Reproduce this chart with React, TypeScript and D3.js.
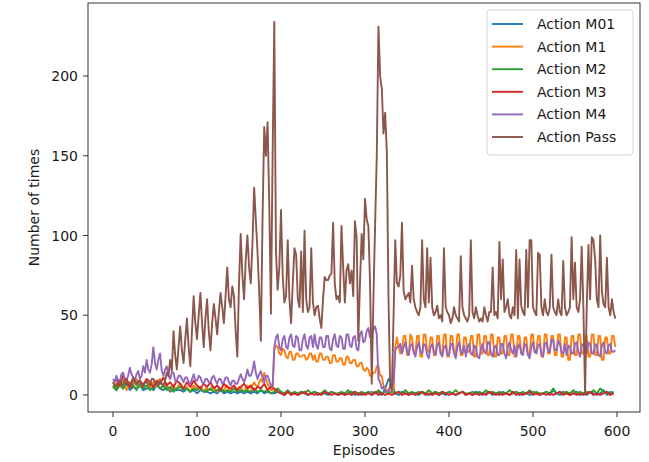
import * as d3 from 'd3';

// episode of every sample: busy series were read every 2 episodes, quiet ones every 4
const episodesFine = d3.range(0, 600, 2);
const episodesCoarse = d3.range(0, 600, 4);

const xTicks = [0, 100, 200, 300, 400, 500, 600];
const yTicks = [0, 50, 100, 150, 200];

const seriesNames = ['Action M01', 'Action M1', 'Action M2', 'Action M3', 'Action M4', 'Action Pass'];
const seriesColors = ['#1f77b4', '#ff7f0e', '#2ca02c', '#d62728', '#9467bd', '#8c564b'];

// every 4 episodes
const m01 = [
  5, 3, 6, 4, 7, 3, 5, 4, 6, 3,
  4, 5, 3, 6, 4, 3, 5, 2, 4, 3,
  3, 2, 4, 2, 3, 1, 3, 2, 2, 1,
  2, 1, 3, 1, 2, 1, 2, 1, 2, 1,
  2, 1, 2, 1, 3, 1, 2, 1, 1, 2,
  1, 0, 2, 1, 1, 0, 2, 1, 0, 1,
  2, 0, 1, 1, 0, 2, 1, 0, 1, 0,
  1, 2, 0, 1, 0, 1, 2, 0, 1, 2,
  0, 4, 10, 8, 1, 0, 2, 1, 0, 1,
  1, 0, 2, 1, 0, 1, 2, 0, 1, 0,
  2, 1, 0, 1, 2, 0, 1, 0, 2, 1,
  0, 1, 2, 0, 1, 0, 2, 1, 0, 1,
  2, 0, 1, 1, 0, 2, 1, 0, 1, 2,
  0, 3, 1, 0, 2, 1, 0, 1, 2, 0,
  1, 0, 2, 1, 0, 1, 3, 0, 1, 2,
];

// every 2 episodes
const m1 = [
  4, 6, 7, 5, 5, 8, 9, 6, 3, 5, 8, 7, 6, 9, 10, 7, 5, 6, 7, 8, 9, 6, 4, 7, 8, 5, 6, 9, 10, 7,
  5, 6, 7, 4, 3, 5, 6, 4, 4, 6, 7, 5, 3, 4, 5, 3, 2, 4, 6, 5, 4, 5, 5, 3, 2, 4, 4, 3, 3, 5,
  5, 3, 2, 4, 4, 3, 3, 5, 6, 3, 2, 4, 4, 3, 3, 5, 5, 3, 2, 4, 6, 5, 4, 6, 8, 6, 5, 8, 10, 8,
  14, 10, 7, 5, 3, 3, 28, 31, 30, 26, 25, 29, 28, 24, 23, 27, 27, 22, 22, 26, 26, 24, 24, 25, 25, 22, 23, 26, 26, 22,
  25, 21, 21, 26, 26, 22, 22, 24, 24, 20, 20, 25, 25, 21, 21, 23, 23, 19, 19, 24, 24, 20, 20, 22, 22, 18, 18, 20, 20, 16,
  15, 17, 16, 12, 12, 14, 14, 18, 18, 12, 12, 6, 4, 3, 3, 2, 2, 3, 30, 36, 30, 26, 28, 37, 37, 25, 25, 38, 36, 26,
  26, 37, 37, 24, 24, 38, 38, 27, 27, 36, 36, 25, 25, 37, 37, 26, 26, 38, 38, 24, 24, 37, 37, 26, 26, 38, 38, 25, 25, 36,
  36, 27, 27, 37, 37, 24, 24, 38, 38, 26, 26, 37, 37, 25, 25, 38, 38, 24, 24, 36, 36, 26, 26, 37, 37, 25, 25, 38, 38, 24,
  24, 37, 37, 26, 26, 36, 36, 25, 25, 38, 38, 27, 27, 37, 37, 24, 24, 38, 38, 26, 26, 37, 37, 25, 25, 38, 38, 24, 24, 36,
  36, 22, 22, 37, 37, 25, 25, 38, 38, 26, 26, 37, 37, 24, 24, 38, 38, 25, 25, 37, 37, 22, 22, 36, 36, 26, 26, 37, 37, 30,
];

// every 4 episodes
const m2 = [
  6, 3, 7, 4, 8, 5, 6, 3, 7, 4,
  6, 3, 5, 7, 4, 6, 3, 5, 2, 4,
  5, 3, 4, 2, 4, 3, 5, 2, 3, 4,
  2, 3, 4, 2, 3, 2, 4, 2, 3, 2,
  3, 2, 4, 2, 3, 2, 3, 1, 2, 4,
  2, 1, 3, 1, 2, 1, 2, 1, 3, 1,
  2, 1, 1, 3, 1, 2, 1, 1, 2, 1,
  3, 1, 2, 1, 2, 1, 1, 2, 1, 3,
  1, 2, 1, 2, 1, 2, 1, 3, 1, 2,
  1, 2, 1, 1, 3, 1, 2, 1, 2, 1,
  2, 1, 3, 1, 2, 1, 1, 2, 1, 2,
  1, 3, 1, 2, 1, 2, 1, 1, 3, 1,
  2, 1, 2, 1, 3, 1, 2, 1, 1, 2,
  1, 4, 1, 2, 1, 2, 1, 3, 1, 2,
  1, 2, 1, 3, 1, 4, 2, 1, 2, 1,
];

// every 4 episodes
const m3 = [
  7, 10, 6, 12, 8, 5, 11, 7, 9, 6,
  10, 8, 5, 9, 7, 11, 6, 8, 5, 9,
  7, 4, 8, 5, 9, 6, 4, 7, 5, 8,
  4, 6, 3, 7, 5, 4, 6, 3, 5, 7,
  4, 6, 3, 5, 4, 7, 3, 5, 4, 2,
  1, 0, 2, 0, 1, 0, 1, 2, 0, 1,
  0, 1, 0, 2, 1, 0, 1, 0, 1, 0,
  1, 0, 2, 0, 1, 0, 1, 0, 2, 0,
  1, 0, 1, 0, 1, 2, 0, 1, 0, 1,
  0, 1, 2, 0, 1, 0, 1, 0, 2, 1,
  0, 1, 0, 1, 2, 0, 1, 0, 1, 0,
  1, 0, 2, 1, 0, 1, 0, 1, 0, 2,
  0, 1, 0, 1, 2, 0, 1, 0, 1, 0,
  1, 0, 1, 2, 0, 1, 0, 1, 0, 1,
  0, 1, 2, 0, 1, 0, 1, 2, 0, 1,
];

// every 2 episodes
const m4 = [
  10, 8, 12, 9, 8, 13, 14, 10, 9, 12, 17, 13, 11, 9, 13, 15, 10, 12, 18, 14, 22, 16, 14, 19, 30, 20, 16, 22, 26, 15,
  12, 16, 18, 12, 10, 14, 14, 9, 9, 12, 12, 10, 8, 11, 11, 8, 7, 10, 13, 9, 9, 12, 11, 8, 7, 10, 10, 8, 8, 11,
  12, 9, 7, 10, 10, 7, 8, 11, 11, 8, 6, 9, 9, 7, 7, 10, 13, 10, 8, 11, 16, 12, 12, 15, 21, 14, 10, 13, 15, 11,
  8, 12, 12, 9, 6, 5, 30, 36, 38, 30, 28, 35, 37, 30, 29, 36, 38, 31, 30, 37, 36, 28, 28, 35, 38, 31, 29, 36, 37, 30,
  38, 31, 29, 36, 36, 30, 30, 37, 37, 29, 28, 35, 38, 31, 30, 37, 36, 29, 29, 38, 38, 31, 30, 36, 37, 29, 28, 38, 40, 33,
  34, 40, 42, 36, 36, 41, 43, 38, 10, 8, 4, 5, 3, 2, 2, 6, 4, 8, 28, 30, 30, 32, 26, 30, 33, 28, 25, 31, 32, 27,
  24, 30, 33, 27, 26, 32, 31, 25, 23, 30, 32, 27, 25, 31, 33, 26, 24, 30, 31, 25, 25, 32, 32, 26, 23, 30, 33, 27, 26, 31,
  24, 30, 32, 26, 25, 31, 30, 24, 23, 29, 32, 27, 26, 33, 33, 26, 24, 30, 31, 25, 25, 32, 32, 26, 23, 30, 33, 28, 26, 31,
  24, 30, 32, 26, 25, 32, 31, 25, 23, 30, 33, 27, 26, 31, 32, 26, 24, 32, 33, 27, 27, 35, 34, 28, 28, 34, 32, 27, 26, 32,
  25, 31, 30, 26, 26, 32, 33, 27, 24, 31, 32, 27, 26, 33, 32, 26, 26, 32, 31, 25, 24, 31, 33, 27, 26, 31, 32, 27, 27, 28,
];

// every 2 episodes
const pass = [
  8, 6, 5, 9, 9, 7, 6, 10, 10, 8, 7, 5, 11, 8, 6, 9, 9, 6, 5, 8, 8, 7, 6, 10, 10, 8, 7, 6, 9, 7,
  6, 9, 14, 12, 22, 15, 40, 25, 16, 30, 43, 28, 20, 35, 48, 30, 18, 40, 62, 45, 35, 50, 64, 45, 30, 48, 60, 40, 28, 45,
  57, 48, 38, 52, 64, 55, 45, 62, 80, 60, 55, 68, 62, 40, 24, 70, 101, 75, 60, 85, 100, 80, 70, 95, 130, 110, 90, 65, 34, 110,
  168, 150, 171, 120, 51, 150, 234, 90, 66, 80, 116, 75, 58, 62, 97, 60, 45, 70, 92, 88, 60, 55, 90, 52, 103, 60, 52, 55, 92, 58,
  50, 55, 56, 48, 42, 60, 74, 72, 72, 75, 76, 108, 70, 60, 62, 58, 106, 80, 58, 78, 82, 70, 78, 62, 109, 99, 34, 70, 101, 85,
  123, 110, 106, 70, 7, 60, 106, 150, 231, 200, 192, 164, 177, 152, 60, 5, 3, 50, 97, 70, 68, 75, 108, 65, 60, 62, 64, 58, 81, 60,
  55, 52, 50, 55, 97, 60, 55, 92, 58, 86, 55, 50, 52, 56, 48, 50, 46, 92, 55, 52, 50, 45, 48, 55, 50, 48, 46, 87, 55, 50,
  48, 46, 50, 97, 52, 48, 55, 50, 46, 48, 46, 55, 50, 46, 52, 52, 80, 50, 52, 48, 96, 60, 85, 52, 55, 60, 50, 48, 55, 50,
  91, 48, 85, 56, 52, 50, 91, 55, 97, 97, 55, 52, 50, 89, 88, 55, 50, 60, 52, 50, 55, 88, 55, 52, 50, 60, 52, 50, 84, 55,
  50, 52, 55, 99, 60, 83, 55, 52, 60, 93, 55, 1, 55, 94, 60, 99, 97, 85, 60, 55, 100, 65, 57, 55, 86, 55, 50, 60, 52, 48,
];

const seriesValues = [m01, m1, m2, m3, m4, pass];
const seriesEpisodes = [episodesCoarse, episodesFine, episodesCoarse, episodesCoarse, episodesFine, episodesFine];

export default function App() {
  const width = 649;
  const height = 462;
  const plot = { left: 88, right: 640, top: 3, bottom: 412 };

  const x = d3.scaleLinear().domain([-29.8, 627.4]).range([plot.left, plot.right]);
  const y = d3.scaleLinear().domain([-10.7, 245.8]).range([plot.bottom, plot.top]);

  const font = '"DejaVu Sans", sans-serif';
  const fs = 14;
  const axisColor = '#333';
  const textColor = '#1a1a1a';

  return (
    <svg width={width} height={height} style={{ position: 'absolute', left: 0, top: 0, background: '#fff' }}
      fontFamily={font}>
      <defs>
        <clipPath id="plot-clip">
          <rect x={plot.left} y={plot.top} width={plot.right - plot.left} height={plot.bottom - plot.top} />
        </clipPath>
      </defs>

      <g clipPath="url(#plot-clip)">
        {seriesValues.map((vals, k) => {
          const eps = seriesEpisodes[k];
          const line = d3.line<number>().x((d, i) => x(eps[i])).y(d => y(d));
          return (
            <path key={seriesNames[k]} d={line(vals) ?? ''} fill="none"
              stroke={seriesColors[k]} strokeWidth={1.9} strokeLinejoin="round" />
          );
        })}
      </g>

      {/* frame */}
      <rect x={plot.left} y={plot.top} width={plot.right - plot.left} height={plot.bottom - plot.top}
        fill="none" stroke={axisColor} strokeWidth={1} />

      {/* x axis */}
      {xTicks.map(t => (
        <g key={'x' + t} transform={`translate(${x(t)},${plot.bottom})`}>
          <line y1={0} y2={5} stroke={axisColor} />
          <text y={24} textAnchor="middle" fontSize={fs} fill={textColor}>{t}</text>
        </g>
      ))}
      <text x={(plot.left + plot.right) / 2} y={455} textAnchor="middle" fontSize={fs} fill={textColor}>Episodes</text>

      {/* y axis */}
      {yTicks.map(t => (
        <g key={'y' + t} transform={`translate(${plot.left},${y(t)})`}>
          <line x1={0} x2={-5} stroke={axisColor} />
          <text x={-10} dy="0.36em" textAnchor="end" fontSize={fs} fill={textColor}>{t}</text>
        </g>
      ))}
      <text transform={`translate(39,${(plot.top + plot.bottom) / 2}) rotate(-90)`} textAnchor="middle"
        fontSize={fs} fill={textColor}>Number of times</text>

      {/* legend */}
      <rect x={487} y={10} width={146} height={145} rx={3} fill="#fff" fillOpacity={0.8}
        stroke="#d6d6d6" strokeWidth={1} />
      {seriesNames.map((name, k) => (
        <g key={'lg' + name} transform={`translate(0,${24 + k * 22.6})`}>
          <line x1={492} x2={523} stroke={seriesColors[k]} strokeWidth={1.9} />
          <text x={537} dy="0.36em" fontSize={fs} fill={textColor}>{name}</text>
        </g>
      ))}
    </svg>
  );
}
